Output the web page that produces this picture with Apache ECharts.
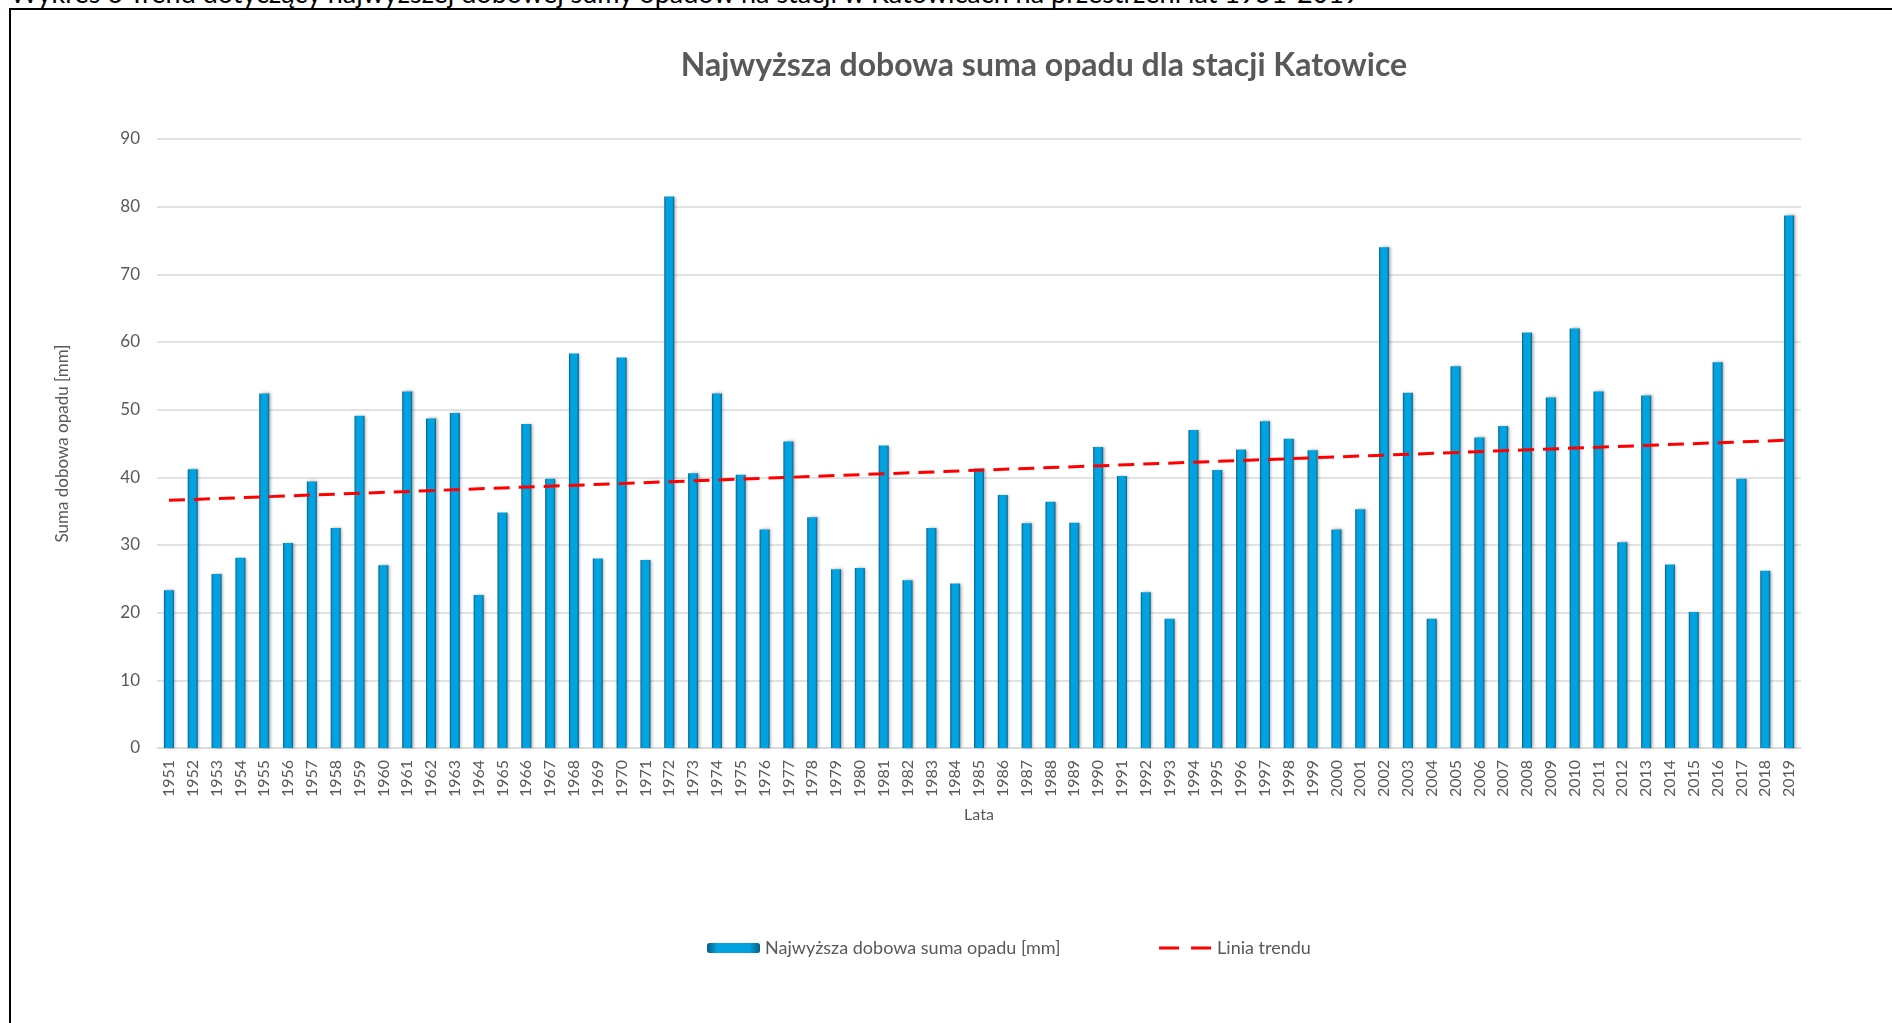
<!DOCTYPE html>
<html>
<head>
<meta charset="utf-8">
<title>Najwyższa dobowa suma opadu - Katowice</title>
<script src="https://cdn.jsdelivr.net/npm/echarts@6/dist/echarts.min.js"></script>
<style>
    html, body { margin: 0; padding: 0; width: 1892px; height: 1023px; overflow: hidden; background: #fff; }
    #caption {
        position: absolute; left: 10px; top: -23px;
        font: 27px/32px Lato, sans-serif; color: #000; white-space: nowrap;
    }
    #chart {
        position: absolute; left: 9px; top: 8px;
        width: 1881px; height: 1013px;
        border-top: 2px solid #000; border-left: 2px solid #000;
    }
</style>
</head>
<body>
<div id="caption">Wykres 6 Trend dotyczący najwyższej dobowej sumy opadów na stacji w Katowicach na przestrzeni lat 1951-2019</div>
<div id="chart"></div>
<script>
// lata
let years = [
    "1951","1952","1953","1954","1955","1956","1957","1958","1959","1960",
    "1961","1962","1963","1964","1965","1966","1967","1968","1969","1970",
    "1971","1972","1973","1974","1975","1976","1977","1978","1979","1980",
    "1981","1982","1983","1984","1985","1986","1987","1988","1989","1990",
    "1991","1992","1993","1994","1995","1996","1997","1998","1999","2000",
    "2001","2002","2003","2004","2005","2006","2007","2008","2009","2010",
    "2011","2012","2013","2014","2015","2016","2017","2018","2019"
];
// najwyzsza dobowa suma opadu [mm]
let maxDaily = [
    23.3, 41.2, 25.7, 28.1, 52.4, 30.3, 39.4, 32.5, 49.1, 27.0,
    52.7, 48.7, 49.5, 22.6, 34.8, 47.9, 39.8, 58.3, 28.0, 57.7,
    27.8, 81.5, 40.6, 52.4, 40.4, 32.3, 45.3, 34.1, 26.4, 26.6,
    44.7, 24.8, 32.5, 24.3, 41.3, 37.4, 33.2, 36.4, 33.3, 44.5,
    40.2, 23.0, 19.1, 47.0, 41.1, 44.1, 48.3, 45.7, 44.0, 32.3,
    35.3, 74.0, 52.5, 19.1, 56.4, 45.9, 47.6, 61.4, 51.8, 62.0,
    52.7, 30.4, 52.1, 27.1, 20.1, 57.0, 39.8, 26.2, 78.7
];
// linia trendu - poczatek i koniec
let trendEnds = [36.6, 45.5];
let yTicks = [0, 90, 10]; // min, max, interval

let katowice = {
    initChart: () => {
        let myChart = echarts.init(document.getElementById('chart'));
        let gray = '#595959';
        let font = 'Lato, sans-serif';

        let trend = years.map(() => null);
        trend[0] = trendEnds[0];
        trend[trend.length - 1] = trendEnds[1];

        let option = {
            animation: false,
            textStyle: { fontFamily: font },
            title: {
                text: 'Najwyższa dobowa suma opadu dla stacji Katowice',
                left: 1028,
                top: 35,
                textAlign: 'center',
                textStyle: { fontFamily: font, fontSize: 32, fontWeight: 'bold', color: gray }
            },
            legend: {
                left: 691,
                top: 924,
                itemWidth: 53,
                itemHeight: 10,
                itemGap: 97,
                textStyle: { fontFamily: font, fontSize: 18, color: gray },
                data: [
                    'Najwyższa dobowa suma opadu [mm]',
                    {
                        name: 'Linia trendu',
                        itemStyle: { color: 'rgba(0,0,0,0)', borderWidth: 0 },
                        lineStyle: { color: '#ff0000', width: 3, type: [20, 12] }
                    }
                ]
            },
            grid: { left: 146, right: 91, top: 129, bottom: 275 },
            xAxis: {
                type: 'category',
                data: years,
                name: 'Lata',
                nameLocation: 'middle',
                nameGap: 59,
                nameTextStyle: { fontFamily: font, fontSize: 16, color: gray },
                axisLine: { lineStyle: { color: '#d9d9d9', width: 1.5 } },
                axisTick: { show: false },
                axisLabel: { rotate: 90, interval: 0, margin: 12, fontFamily: font, fontSize: 16, color: gray }
            },
            yAxis: {
                type: 'value',
                min: yTicks[0],
                max: yTicks[1],
                interval: yTicks[2],
                name: 'Suma dobowa opadu [mm]',
                nameLocation: 'middle',
                nameGap: 86,
                nameTextStyle: { fontFamily: font, fontSize: 17, color: gray },
                axisLine: { show: false },
                axisTick: { show: false },
                axisLabel: { margin: 17, fontFamily: font, fontSize: 17, color: gray },
                splitLine: { lineStyle: { color: '#d9d9d9', width: 1.5 } }
            },
            series: [{
                name: 'Najwyższa dobowa suma opadu [mm]',
                type: 'bar',
                data: maxDaily,
                barWidth: 10,
                itemStyle: {
                    color: new echarts.graphic.LinearGradient(0, 0, 1, 0, [
                        { offset: 0, color: '#0a5e85' },
                        { offset: 0.2, color: '#00a3e0' },
                        { offset: 0.8, color: '#00a3e0' },
                        { offset: 1, color: '#0a5e85' }
                    ]),
                    shadowColor: 'rgba(0,0,0,0.35)',
                    shadowBlur: 3,
                    shadowOffsetX: 1.5
                }
            }, {
                name: 'Linia trendu',
                type: 'line',
                data: trend,
                connectNulls: true,
                symbol: 'none',
                z: 5,
                lineStyle: { color: '#ff0000', width: 3, type: [16, 9] },
                itemStyle: { color: '#ff0000' }
            }]
        };

        myChart.setOption(option);
    }//initChart-------end
};

katowice.initChart();
</script>
</body>
</html>
